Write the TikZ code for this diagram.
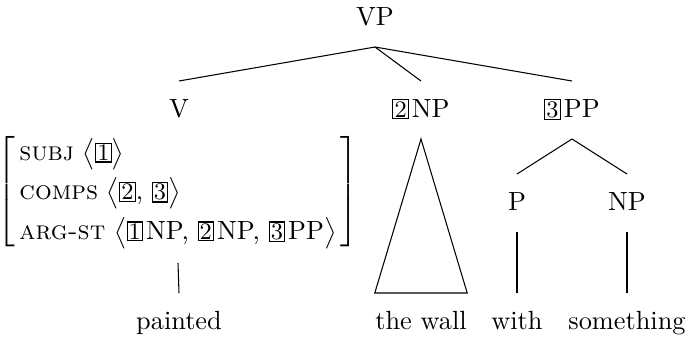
\documentclass[tikz,border=0pt]{standalone}
\usepackage{amsmath, amssymb}
\usepackage{tikz}
\usetikzlibrary{positioning}
\newcommand{\tagbox}[1]{{\setlength{\fboxsep}{0.4pt}\fbox{\small #1}}}
\newcommand{\tagcat}[2]{\tagbox{#1}\kern1.2pt #2}
\tikzset{
  cat/.style={inner sep=0pt, text height=6.84pt, text depth=1.52pt, outer ysep=6.84pt, anchor=base},
  branch/.style={line width=0.4pt}
}

\begin{document}
\begin{tikzpicture}[x=0.38pt, y=-0.38pt]
                \useasboundingbox (0,0) rectangle (692,340);

                % Category labels
                \node[cat] (vp) at (375,25) {VP};
                \node[cat] (v) at (179,117) {V};
                \node[cat] (ntwo) at (421,117) {\tagcat{2}{NP}};
                \node[cat] (pthree) at (572,117) {\tagcat{3}{PP}};
                \node[cat] (p) at (517,210) {P};
                \node[cat] (np) at (627,210) {NP};

                % Feature structure of the verb
                \node[inner sep=0pt, outer ysep=4.5pt] (avm) at (178,192) {%
                  $\left[\renewcommand{\arraystretch}{1.25}\begin{tabular}{@{\,}l@{\,}}
                    \textsc{subj} $\big\langle$\tagbox{1}$\big\rangle$\\
                    \textsc{comps} $\big\langle$\tagbox{2}, \tagbox{3}$\big\rangle$\\
                    \textsc{arg-st} $\big\langle$\tagcat{1}{NP}, \tagcat{2}{NP}, \tagcat{3}{PP}$\big\rangle$
                  \end{tabular}\right]$};

                % Words
                \node[cat] (painted) at (179,329) {painted};
                \node[cat] (wall) at (421,329) {the wall};
                \node[cat] (with) at (517,329) {with};
                \node[cat] (something) at (627,329) {something};

                % Branches
                \draw[branch] (vp.south) -- (v.north);
                \draw[branch] (vp.south) -- (ntwo.north);
                \draw[branch] (vp.south) -- (pthree.north);
                \draw[branch] (pthree.south) -- (p.north);
                \draw[branch] (pthree.south) -- (np.north);
                \draw[branch] (avm.south) -- (painted.north);
                \draw[branch] (p.south) -- (with.north);
                \draw[branch] (np.south) -- (something.north);

                % Triangle over the wall
                \draw[branch] (ntwo.south) -- (wall.north west) -- (wall.north east) -- cycle;
            \end{tikzpicture}
\end{document}
